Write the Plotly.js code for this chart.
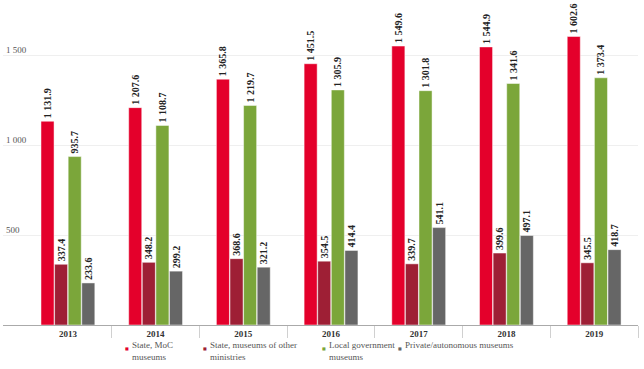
<!DOCTYPE html>
<html><head><meta charset="utf-8">
<script src="https://cdn.plot.ly/plotly-3.0.1.min.js"></script>
<style>html,body{margin:0;padding:0;background:#fff}#c{width:644px;height:369px}</style>
</head><body><div id="c"></div>
<script>
const years = ['2013','2014','2015','2016','2017','2018','2019'];
const stateMoC = [1131.9, 1207.6, 1365.8, 1451.5, 1549.6, 1544.9, 1602.6];
const stateOther = [337.4, 348.2, 368.6, 354.5, 339.7, 399.6, 345.5];
const localGov = [935.7, 1108.7, 1219.7, 1305.9, 1301.8, 1341.6, 1373.4];
const privateAuto = [233.6, 299.2, 321.2, 414.4, 541.1, 497.1, 418.7];
const seriesNames = ['State, MoC<br>museums', 'State, museums of other<br>ministries', 'Local government<br>museums', 'Private/autonomous museums'];
const colors = ['#E4002B', '#9E1F35', '#7BA63A', '#666666'];
const yTicks = [0, 500, 1000, 1500];
const legendX = [131, 209, 328, 404];

const serif = 'Liberation Serif, Times New Roman, serif';
const data = [stateMoC, stateOther, localGov, privateAuto].map((vals, i) => ({
  type: 'bar', x: years, y: vals, name: seriesNames[i],
  marker: {color: colors[i], line: {color: 'rgba(255,255,255,0.6)', width: 0.8}},
  texttemplate: '%{y:,.1f}', textposition: 'outside', textangle: -90,
  constraintext: 'none',
  textfont: {family: serif, size: 10, color: '#222', weight: 'bold'},
  cliponaxis: false, hoverinfo: 'skip', showlegend: false
}));

const annotations = [];
seriesNames.forEach((nm, i) => {
  annotations.push({xref: 'paper', yref: 'paper', x: (legendX[i] - 3) / 635, y: -0.062,
    xanchor: 'right', yanchor: 'top', showarrow: false, xshift: -1, borderpad: 0,
    text: '■', font: {family: 'DejaVu Sans', size: 4, color: colors[i]}});
  annotations.push({xref: 'paper', yref: 'paper', x: (legendX[i] - 3) / 635, y: -0.045,
    xanchor: 'left', yanchor: 'top', showarrow: false, align: 'left', borderpad: 0,
    text: nm, font: {family: serif, size: 9, color: '#555'}});
});

const layout = {
  width: 644, height: 369,
  margin: {l: 3, r: 6, t: 10, b: 44, autoexpand: false},
  separators: '. ',
  barmode: 'group', bargap: 0.38, bargroupgap: 0.04,
  uniformtext: {mode: false},
  paper_bgcolor: '#fff', plot_bgcolor: '#fff',
  font: {family: serif, size: 9, color: '#444'},
  xaxis: {
    type: 'category', range: [-0.74, 6.5], tickson: 'boundaries',
    ticks: 'outside', ticklen: 12, tickcolor: '#d0d0d0', tickwidth: 1,
    ticklabelstandoff: 2, automargin: false,
    tickfont: {family: serif, size: 9, color: '#333', weight: 'bold'},
    showgrid: false, showline: false, zeroline: false, fixedrange: true
  },
  yaxis: {
    range: [0, 1750], tickvals: yTicks, tickformat: ',', automargin: false,
    ticklabelposition: 'inside', ticklabelshift: -5, ticks: '',
    tickfont: {family: serif, size: 9, color: '#555'},
    showgrid: true, gridcolor: '#efefef', gridwidth: 1,
    zeroline: true, zerolinecolor: '#aaaaaa', zerolinewidth: 1,
    showline: false, fixedrange: true
  },
  showlegend: false,
  annotations: annotations
};
Plotly.newPlot('c', data, layout, {displayModeBar: false, staticPlot: true});
</script></body></html>
